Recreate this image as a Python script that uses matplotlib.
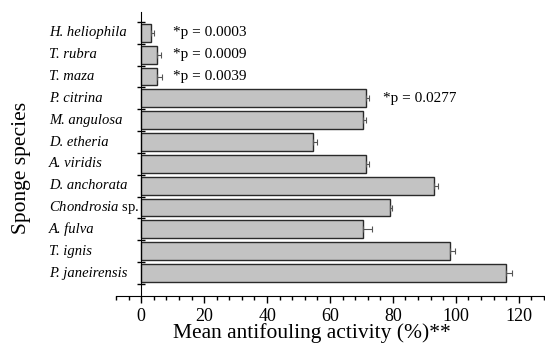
import numpy as np
import matplotlib
matplotlib.use('Agg')
import matplotlib.pyplot as plt
from matplotlib.ticker import MultipleLocator
from matplotlib.transforms import blended_transform_factory

plt.rcParams['font.family'] = 'Liberation Serif'
plt.rcParams['mathtext.fontset'] = 'custom'
plt.rcParams['mathtext.rm'] = 'Liberation Serif'
plt.rcParams['mathtext.it'] = 'Liberation Serif:italic'

# datos (de arriba hacia abajo)
especies = ['H. heliophila', 'T. rubra', 'T. maza', 'P. citrina', 'M. angulosa',
            'D. etheria', 'A. viridis', 'D. anchorata', 'Chondrosia sp.',
            'A. fulva', 'T. ignis', 'P. janeirensis']
actividad = [3, 5, 5, 71.5, 70.5, 54.5, 71.5, 93, 79, 70.5, 98, 116]
error = [1.0, 1.3, 1.5, 1.0, 1.0, 1.5, 1.0, 1.3, 0.8, 2.7, 1.6, 2.0]
p_textos = ['*p = 0.0003', '*p = 0.0009', '*p = 0.0039', '*p = 0.0277']
p_indices = [0, 1, 2, 3]
p_x = [10, 10, 10, 77]

n = len(especies)
pos = np.arange(n)[::-1]

fig = plt.figure(figsize=(5.45, 3.49), dpi=100)
ax = fig.add_axes([0.213, 0.152, 0.785, 0.814])

ax.barh(pos, actividad, height=0.82, color='#c3c3c3', edgecolor='#2a2a2a', linewidth=1.0)
ax.errorbar(actividad, pos, xerr=[np.zeros(n), error], fmt='none',
            ecolor='#555555', elinewidth=0.8, capsize=2, capthick=0.8)

for i, t, x in zip(p_indices, p_textos, p_x):
    ax.text(x, pos[i], t, fontsize=11, va='center', ha='left')

# etiquetas de especies alineadas a la izquierda
trans = blended_transform_factory(fig.transFigure, ax.transData)
for e, y in zip(especies, pos):
    if e.endswith(' sp.'):
        fig.text(0.09, y, r'$\it{' + e[:-4] + '}$ sp.', fontsize=10.5,
                 va='center', ha='left', transform=trans)
    else:
        fig.text(0.09, y, e, fontsize=10.5, style='italic',
                 va='center', ha='left', transform=trans)

ax.set_xlim(-8, 128)
ax.set_ylim(-1.05, n - 0.04)
ax.spines['left'].set_position(('data', 0))
ax.spines['top'].set_visible(False)
ax.spines['right'].set_visible(False)

ax.set_yticks(np.arange(-0.5, n, 1.0))
ax.set_yticklabels([])
ax.tick_params(axis='y', which='major', direction='inout', length=6, width=1)

ax.xaxis.set_minor_locator(MultipleLocator(4))
ax.set_xticks(np.arange(0, 121, 20))
ax.tick_params(axis='x', which='major', direction='out', length=5, width=1, labelsize=13)
ax.tick_params(axis='x', which='minor', direction='out', length=3, width=1)

fig.text(0.5725, 0.045, 'Mean antifouling activity (%)**', fontsize=15.5,
         va='center', ha='center')
fig.text(0.04, 0.52, 'Sponge species', rotation=90, fontsize=15.5,
         va='center', ha='center')

fig.savefig('out.png', dpi=100)
